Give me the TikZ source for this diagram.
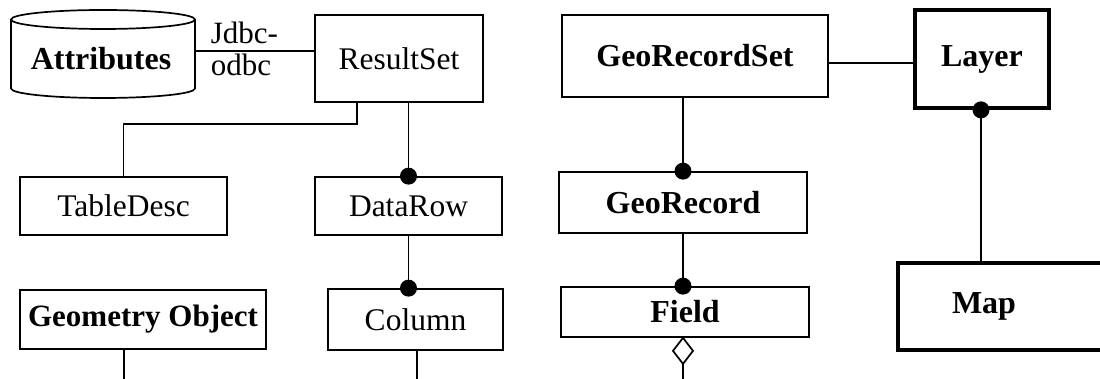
\documentclass[tikz,border=0pt]{standalone}
\usepackage{fontspec}
\setmainfont{Liberation Serif}
\begin{document}
\begin{tikzpicture}[x=1pt,y=1pt,
  line width=1.7pt,
  box/.style={draw, rectangle, inner sep=0pt, line width=1.7pt, font=\fontsize{31.5}{36}\selectfont},
  bbox/.style={box, font=\fontsize{32}{36}\selectfont\bfseries},
  thickbox/.style={bbox, line width=3.8pt},
  dot/.style={fill=black, draw=none}
]
\useasboundingbox (0,0) rectangle (1100,379);

% Cylinder "Attributes"
\draw (11,359.5) -- (11,290.5) arc[start angle=180,end angle=360,x radius=92,y radius=9.5] -- (195,359.5);
\draw (103,359.5) ellipse [x radius=92, y radius=9.5];
\node[inner sep=0pt, font=\fontsize{32}{36}\selectfont\bfseries] (attr) at (101,320) {Attributes};
\coordinate (cylR) at (195,328);

\node[box, minimum width=168, minimum height=87] (rs) at (399,320.5) {ResultSet};
\node[box, minimum width=207, minimum height=58] (td) at (123.5,173) {TableDesc};
\node[box, minimum width=187, minimum height=58] (dr) at (408.5,173) {DataRow};
\node[box, minimum width=175, minimum height=61] (col) at (415.5,59.5) {Column};
\node[bbox, minimum width=246, minimum height=59, font=\fontsize{31}{36}\selectfont\bfseries] (go) at (143,59.5) {Geometry Object};

\node[bbox, minimum width=266, minimum height=82] (grs) at (695,323) {GeoRecordSet};
\node[thickbox, minimum width=134, minimum height=98] (layer) at (982,320) {Layer};
\node[bbox, minimum width=248, minimum height=61] (gr) at (683,176.5) {GeoRecord};
\node[bbox, minimum width=248, minimum height=50] (fd) at (685,67) {Field};
\node[thickbox, minimum width=207, minimum height=87] (mapbox) at (1001.5,72.5) {};
\node[inner sep=0pt, font=\fontsize{32}{36}\selectfont\bfseries] (maptext) at (984,72.5) {Map};

% label
\node[inner sep=0pt, anchor=north west, align=left, font=\fontsize{31}{32}\selectfont] (jdbc) at (210,358) {Jdbc-\\odbc};

% connectors
\draw (cylR) -- (rs.west |- cylR);
\draw ([xshift=-42pt]rs.south) -- ++(0,-21) -| (td.north);
\draw (dr.north |- rs.south) -- (dr.north);
\fill[dot] (dr.north) circle (8.5);
\draw (dr.south) -- (dr.south |- col.north);
\fill[dot] (dr.south |- col.north) circle (8.5);
\draw ([xshift=1.5pt]col.south) -- ++(0,-40);
\draw ([xshift=-19pt]go.south) -- ++(0,-40);

\draw ([yshift=-7pt]grs.east) -- ([yshift=-7pt]grs.east -| layer.west);
\draw (gr.north |- grs.south) -- (gr.north);
\fill[dot] (gr.north) circle (8.5);
\draw (gr.south) -- (gr.south |- fd.north);
\fill[dot] (gr.south |- fd.north) circle (8.5);
\coordinate (dtop) at (gr.south |- fd.south);
\draw[fill=white] (dtop) -- ++(10,-13) -- ++(-10,-13) -- ++(-10,13) -- cycle;
\draw ([yshift=-26pt]dtop) -- ++(0,-40);

\draw ([xshift=-1pt]layer.south) -- ([xshift=-1pt]layer.south |- mapbox.north);
\fill[dot] ([xshift=-1pt]layer.south) circle (8.5);
\end{tikzpicture}
\end{document}
